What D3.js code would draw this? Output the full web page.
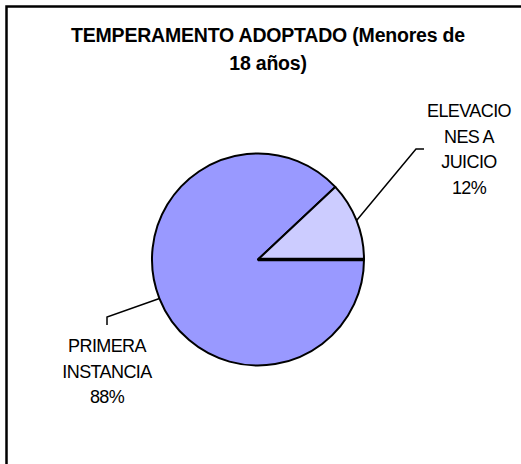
<!DOCTYPE html>
<html>
<head>
<meta charset="utf-8">
<script src="https://cdn.jsdelivr.net/npm/d3@7"></script>
<style>
  body { margin: 0; background: #fff; }
  text { font-family: Arial, "Liberation Sans", sans-serif; fill: #000; }
</style>
</head>
<body>
<svg width="521" height="464"></svg>
<script>
// data
var categories = ["PRIMERA INSTANCIA", "ELEVACIONES A JUICIO"]
var values = [88, 12]
var labelLines = [["PRIMERA", "INSTANCIA"], ["ELEVACIO", "NES A", "JUICIO"]]
var titleLines = ["TEMPERAMENTO ADOPTADO (Menores de", "18 años)"]
var colors = ["#9999ff", "#ccccff"]

var svg = d3.select("svg"),
	width = +svg.attr("width"),
	height = +svg.attr("height")

var cx = 258, cy = 259.5, radius = 106

// chart frame, runs off the right and bottom like the original
svg.append("rect")
	.attr("x", 6.5).attr("y", 6.5)
	.attr("width", width + 20).attr("height", height + 20)
	.style("fill", "#fff")
	.style("stroke", "#000")
	.style("stroke-width", 2.5)

svg.selectAll("text.title").data(titleLines).enter().append("text")
	.attr("class", "title")
	.attr("x", 268)
	.attr("y", (d, i) => 42 + i * 28)
	.attr("text-anchor", "middle")
	.style("font-weight", "bold")
	.style("font-size", "19.5px")
	.style("letter-spacing", "-0.2px")
	.text(d => d)

var pie = d3.pie().sort(null)
	.startAngle(Math.PI / 2)
	.endAngle(Math.PI / 2 + 2 * Math.PI)

var arcs = pie(values)
var arc = d3.arc().innerRadius(0).outerRadius(radius)

var g = svg.append("g").attr("transform", "translate(" + cx + "," + cy + ")")

g.selectAll("path").data(arcs).enter().append("path")
	.attr("d", arc)
	.style("fill", (d, i) => colors[i])
	.style("stroke", "#000")
	.style("stroke-width", 2)
	.style("stroke-linejoin", "round")

// the heavier radius where the series starts
var a0 = arcs[0].startAngle
g.append("line")
	.attr("x1", 0).attr("y1", 0)
	.attr("x2", Math.sin(a0) * radius).attr("y2", -Math.cos(a0) * radius)
	.style("stroke", "#000")
	.style("stroke-width", 3.5)

// leader lines + labels
var labelPos = [
	{ elbow: [107 - cx, 317 - cy], end: [107 - cx, 325 - cy], tx: 107 - cx, ty: 352 - cy },
	{ elbow: [416 - cx, 149 - cy], end: [424 - cx, 149 - cy], tx: 469 - cx, ty: 117 - cy }
]

arcs.forEach(function(d, i) {
	var mid = (d.startAngle + d.endAngle) / 2
	var p = [Math.sin(mid) * radius, -Math.cos(mid) * radius]
	var lp = labelPos[i]
	g.append("polyline")
		.attr("points", [p, lp.elbow, lp.end].map(q => q.join(",")).join(" "))
		.style("fill", "none")
		.style("stroke", "#000")
		.style("stroke-width", 1.5)

	var lines = labelLines[i].concat([d3.format(".0f")(values[i] / d3.sum(values) * 100) + "%"])
	g.append("text")
		.attr("text-anchor", "middle")
		.style("font-size", "18px")
		.style("letter-spacing", "-0.6px")
		.selectAll("tspan").data(lines).enter().append("tspan")
		.attr("x", lp.tx)
		.attr("y", (t, j) => lp.ty + j * 25.5)
		.text(t => t)
})
</script>
</body>
</html>
